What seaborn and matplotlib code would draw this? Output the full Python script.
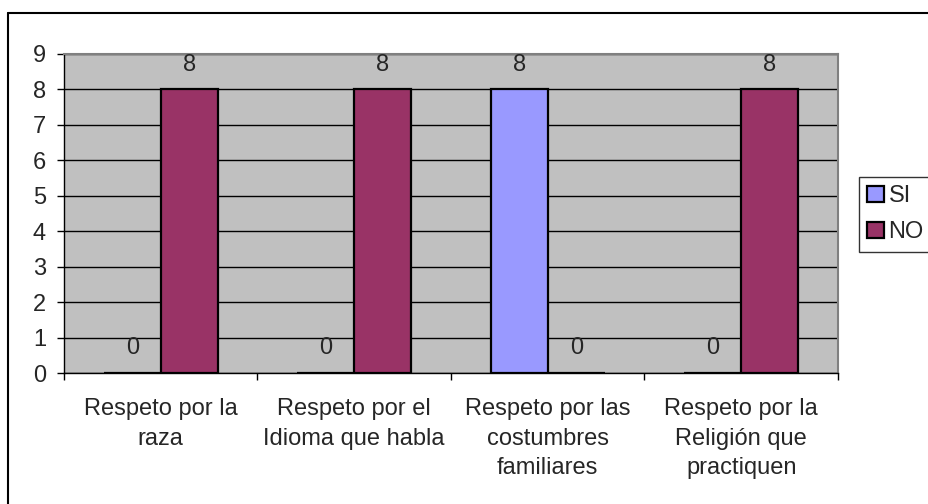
#!/usr/bin/env python
# Respeto chart: SI / NO counts per category, Excel-like style

import numpy as np
import pandas as pd
import seaborn as sns
import matplotlib.pyplot as plt
from matplotlib.patches import Patch
from matplotlib.lines import Line2D


# The data
categories = [
    "Respeto por la\nraza",
    "Respeto por el\nIdioma que habla",
    "Respeto por las\ncostumbres\nfamiliares",
    "Respeto por la\nReligión que\npractiquen",
]
series_names = ["SI", "NO"]
si_values = [0, 0, 8, 0]
no_values = [8, 8, 0, 8]
y_ticks = list(range(0, 10))

colors = {"SI": "#9999FF", "NO": "#993366"}

plot_df = pd.DataFrame({
    "categoria": categories * 2,
    "serie": ["SI"] * len(categories) + ["NO"] * len(categories),
    "valor": si_values + no_values,
})

sns.set_style("white")
plt.rcParams['font.family'] = ['Liberation Sans', 'DejaVu Sans']
fs = 17

fig = plt.figure(figsize=(9.29, 5.04), dpi=100)
ax = fig.add_axes([64 / 929, 1 - 373 / 504, (838 - 64) / 929, (373 - 54) / 504])

sns.barplot(
    data=plot_df, x="categoria", y="valor", hue="serie",
    hue_order=series_names, order=categories, palette=colors,
    width=0.59, errorbar=None, edgecolor="black", linewidth=1.6,
    legend=False, ax=ax, saturation=1,
)

# Value labels over each bar
for cont in ax.containers:
    ax.bar_label(cont, padding=10, fontsize=fs)

# Axes styling
ax.set_facecolor("#C0C0C0")
ax.set_axisbelow(True)
ax.set_ylim(0, 9)
ax.set_xlim(-0.5, len(categories) - 0.5)
ax.set_yticks(y_ticks)
ax.yaxis.grid(True, color="black", linewidth=1)
ax.xaxis.grid(False)
ax.set_xlabel("")
ax.set_ylabel("")

ax.set_xticks(np.arange(len(categories)))
ax.set_xticklabels(categories, fontsize=fs, linespacing=1.45)
ax.set_xticks(np.arange(len(categories) + 1) - 0.5, minor=True)
ax.tick_params(axis="x", which="major", length=0, pad=18)
ax.tick_params(axis="x", which="minor", length=5, width=1, color="black",
               direction="out", bottom=True)
ax.tick_params(axis="y", length=5, width=1, color="black", direction="out",
               left=True, labelsize=fs, pad=8)

for side in ["top", "right"]:
    ax.spines[side].set_color("#808080")
    ax.spines[side].set_linewidth(1.5)
for side in ["left", "bottom"]:
    ax.spines[side].set_color("black")
    ax.spines[side].set_linewidth(1)

# Legend
handles = [Patch(facecolor=colors[s], edgecolor="black", linewidth=1.6, label=s)
           for s in series_names]
leg = fig.legend(
    handles=handles, loc="upper left",
    bbox_to_anchor=(859 / 929, 1 - 177 / 504),
    fontsize=fs, frameon=True, fancybox=False, shadow=False,
    handlelength=0.7, handleheight=0.7, handletextpad=0.2,
    borderpad=0.35, labelspacing=0.6, borderaxespad=0,
)
leg.get_frame().set_edgecolor("black")
leg.get_frame().set_linewidth(1)

# Outer chart frame (only left and top visible)
fig.add_artist(Line2D([8 / 929, 8 / 929], [0, 1 - 13 / 504],
                      transform=fig.transFigure, color="black", linewidth=1.5))
fig.add_artist(Line2D([8 / 929, 1], [1 - 13 / 504, 1 - 13 / 504],
                      transform=fig.transFigure, color="black", linewidth=1.5))

fig.savefig("out.png", dpi=100)
